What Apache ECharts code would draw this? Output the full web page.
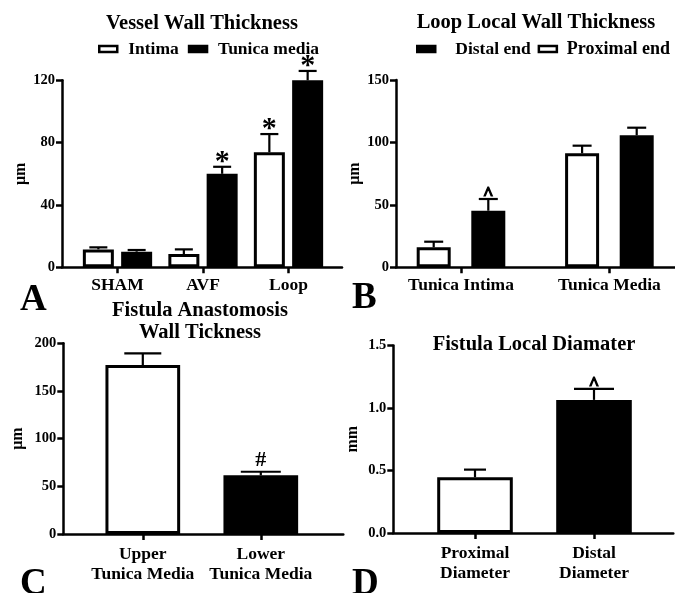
<!DOCTYPE html>
<html><head><meta charset="utf-8">
<script src="https://cdn.jsdelivr.net/npm/echarts@6.0.0/dist/echarts.min.js"></script>
<style>html,body{margin:0;padding:0;background:#fff}#c{width:675px;height:593px}</style>
</head><body><div id="c"></div>
<script>
// ---------- Panel A: Vessel Wall Thickness ----------
const aCategories = ['SHAM', 'AVF', 'Loop'];
const aIntima = [11.5, 8.5, 73.8];
const aIntimaErr = [12.8, 11.5, 85.5];
const aMedia = [10, 60, 120];
const aMediaErr = [11.1, 64.5, 126];
const aIntimaMarks = ['', '', '*'];
const aMediaMarks = ['', '*', '*'];
// ---------- Panel B: Loop Local Wall Thickness ----------
const bCategories = ['Tunica Intima', 'Tunica Media'];
const bProximal = [16, 91.3];
const bProximalErr = [20.5, 97.4];
const bDistal = [45.3, 105.7];
const bDistalErr = [54.7, 111.8];
const bProximalMarks = ['', ''];
const bDistalMarks = ['^', ''];
// ---------- Panel C: Fistula Anastomosis Wall Tickness ----------
const cCategories = ['Upper\nTunica Media', 'Lower\nTunica Media'];
const cValues = [177.2, 61.5];
const cErr = [189.5, 65.3];
const cMarks = ['', '#'];
// ---------- Panel D: Fistula Local Diamater ----------
const dCategories = ['Proximal\nDiameter', 'Distal\nDiameter'];
const dValues = [0.446, 1.065];
const dErr = [0.507, 1.153];
const dMarks = ['', '^'];

const FONT = "'Liberation Serif', 'Times New Roman', serif";
const BLACK = '#000';
const txt = (size) => ({ fontFamily: FONT, fontWeight: 'bold', fontSize: size, color: BLACK });

// panel layouts: frame = visible axes; bars = category band grid
const panels = [
  { frame: { left: 62, top: 80.3, width: 280, height: 187 }, bars: { left: 74.75, width: 256.5 }, min: 0, max: 120, interval: 40, name: 'μm', nameGap: 32, cats: aCategories, fmt: v => String(v) },
  { frame: { left: 396, top: 80, width: 279, height: 187.3 }, bars: { left: 386.8, width: 296.8 }, min: 0, max: 150, interval: 50, name: 'μm', nameGap: 32, cats: bCategories, fmt: v => String(v) },
  { frame: { left: 63.3, top: 343.3, width: 280, height: 190.7 }, bars: { left: 83.8, width: 236 }, min: 0, max: 200, interval: 50, name: 'μm', nameGap: 37, cats: cCategories, fmt: v => String(v) },
  { frame: { left: 393.3, top: 345.5, width: 280, height: 187.5 }, bars: { left: 415.5, width: 238 }, min: 0, max: 1.5, interval: 0.5, name: 'mm', nameGap: 32, cats: dCategories, fmt: v => v.toFixed(1) }
];

const grids = [], xAxes = [], yAxes = [];
panels.forEach((p, k) => {
  grids.push(Object.assign({ outerBoundsMode: 'none', containLabel: false }, p.frame));
  grids.push({ outerBoundsMode: 'none', containLabel: false, left: p.bars.left, width: p.bars.width, top: p.frame.top, height: p.frame.height });
  xAxes.push({
    gridIndex: 2 * k, type: 'value', min: 0, max: 1,
    axisLine: { show: true, lineStyle: { color: BLACK, width: 2.5 } },
    axisTick: { show: false }, axisLabel: { show: false }, splitLine: { show: false }
  });
  xAxes.push({
    gridIndex: 2 * k + 1, type: 'category', data: p.cats,
    axisLine: { show: false },
    axisTick: { show: true, alignWithLabel: true, length: 6, lineStyle: { color: BLACK, width: 2.5 } },
    axisLabel: Object.assign(txt(17.5), { margin: k < 2 ? 8 : 10, lineHeight: 20, interval: 0 }),
    splitLine: { show: false }
  });
  yAxes.push({
    gridIndex: 2 * k, type: 'value', min: p.min, max: p.max, interval: p.interval,
    name: p.name, nameLocation: 'middle', nameGap: p.nameGap, nameRotate: 90,
    nameTextStyle: txt(16),
    axisLine: { show: true, lineStyle: { color: BLACK, width: 2.5 } },
    axisTick: { show: true, length: 6, lineStyle: { color: BLACK, width: 2.5 } },
    axisLabel: Object.assign(txt(14.5), { margin: 7, formatter: p.fmt }),
    splitLine: { show: false }
  });
  yAxes.push({ gridIndex: 2 * k + 1, type: 'value', min: p.min, max: p.max, show: false });
});

const barStyle = (fill) => ({ color: fill, borderColor: BLACK, borderWidth: 3 });

function errorBars(axisIdx, means, errs, marks, offset, caps, markCfg) {
  return {
    type: 'custom', xAxisIndex: axisIdx, yAxisIndex: axisIdx, z: 10, silent: true,
    data: means.map((m, i) => [i, m, errs[i]]),
    renderItem: function (params, api) {
      const i = api.value(0);
      const base = api.coord([i, api.value(1)]);
      const top = api.coord([i, api.value(2)]);
      const x = base[0] + offset;
      const cw = Array.isArray(caps) ? caps[i] : caps;
      const children = [
        { type: 'line', shape: { x1: x, y1: base[1], x2: x, y2: top[1] }, style: { stroke: BLACK, lineWidth: 2.2 } },
        { type: 'line', shape: { x1: x - cw / 2, y1: top[1], x2: x + cw / 2, y2: top[1] }, style: { stroke: BLACK, lineWidth: 2.2 } }
      ];
      if (marks[i]) {
        children.push({
          type: 'text', x: x, y: top[1] - markCfg.dy,
          style: { text: marks[i], fontFamily: FONT, fontWeight: 'bold', fontSize: markCfg.size, fill: BLACK,
                   stroke: BLACK, lineWidth: markCfg.stroke || 0, align: 'center', verticalAlign: 'middle' }
        });
      }
      return { type: 'group', children: children };
    }
  };
}

const series = [
  // Panel A
  { type: 'bar', name: 'Intima', xAxisIndex: 1, yAxisIndex: 1, data: aIntima, barWidth: 31, barGap: '23.5%', itemStyle: barStyle('#fff') },
  { type: 'bar', name: 'Tunica media', xAxisIndex: 1, yAxisIndex: 1, data: aMedia, barWidth: 31, barGap: '23.5%', itemStyle: barStyle(BLACK) },
  errorBars(1, aIntima, aIntimaErr, aIntimaMarks, -19.15, 18, { dy: 5, size: 30 }),
  errorBars(1, aMedia, aMediaErr, aMediaMarks, 19.15, 18, { dy: 5, size: 30 }),
  // Panel B
  { type: 'bar', name: 'Proximal end', xAxisIndex: 3, yAxisIndex: 3, data: bProximal, barWidth: 34, barGap: '60.6%', itemStyle: barStyle('#fff') },
  { type: 'bar', name: 'Distal end', xAxisIndex: 3, yAxisIndex: 3, data: bDistal, barWidth: 34, barGap: '60.6%', itemStyle: barStyle(BLACK) },
  errorBars(3, bProximal, bProximalErr, bProximalMarks, -27.3, 19, { dy: 4, size: 18, stroke: 1.2 }),
  errorBars(3, bDistal, bDistalErr, bDistalMarks, 27.3, 19, { dy: 4, size: 18, stroke: 1.2 }),
  // Panel C
  { type: 'bar', name: 'C', xAxisIndex: 5, yAxisIndex: 5, barWidth: 74.7,
    data: cValues.map((v, i) => ({ value: v, itemStyle: barStyle(i === 0 ? '#fff' : BLACK) })), itemStyle: barStyle('#fff') },
  errorBars(5, cValues, cErr, cMarks, 0, [37, 40], { dy: 11, size: 22 }),
  // Panel D
  { type: 'bar', name: 'D', xAxisIndex: 7, yAxisIndex: 7, barWidth: 75.6,
    data: dValues.map((v, i) => ({ value: v, itemStyle: barStyle(i === 0 ? '#fff' : BLACK) })), itemStyle: barStyle('#fff') },
  errorBars(7, dValues, dErr, dMarks, 0, [22, 40], { dy: 4, size: 18, stroke: 1.2 })
];

const titleStyle = txt(20.5);
const letterStyle = txt(37);
const option = {
  animation: false,
  backgroundColor: '#fff',
  title: [
    { text: 'Vessel Wall Thickness', left: 202, top: 13, textAlign: 'center', padding: 0, textStyle: titleStyle },
    { text: 'Loop Local Wall Thickness', left: 536, top: 12, textAlign: 'center', padding: 0, textStyle: titleStyle },
    { text: 'Fistula Anastomosis\nWall Tickness', left: 200, top: 300, textAlign: 'center', padding: 0, textStyle: Object.assign(txt(20.5), { lineHeight: 21.5 }) },
    { text: 'Fistula Local Diamater', left: 534, top: 334, textAlign: 'center', padding: 0, textStyle: titleStyle },
    { text: 'A', left: 20, top: 282, padding: 0, textStyle: letterStyle },
    { text: 'B', left: 352, top: 280, padding: 0, textStyle: letterStyle },
    { text: 'C', left: 20, top: 566, padding: 0, textStyle: letterStyle },
    { text: 'D', left: 352, top: 566, padding: 0, textStyle: letterStyle }
  ],
  legend: [
    { left: 98, top: 40, padding: 0, itemWidth: 18, itemHeight: 6, itemGap: 9, icon: 'rect', selectedMode: false,
      itemStyle: { borderColor: BLACK, borderWidth: 2.5 },
      textStyle: Object.assign(txt(17.5), { padding: [0, 0, 0, 6] }),
      data: ['Intima', 'Tunica media'] },
    { left: 416, top: 40, padding: 0, itemWidth: 18, itemHeight: 6, itemGap: 7, icon: 'rect', selectedMode: false,
      itemStyle: { borderColor: BLACK, borderWidth: 2.5 },
      textStyle: Object.assign(txt(17.5), { padding: [0, 0, 0, 5] }),
      data: [{ name: 'Distal end', textStyle: Object.assign(txt(17.5), { padding: [0, 0, 0, 15] }) },
             { name: 'Proximal end', textStyle: Object.assign(txt(18), { padding: [0, 0, 0, 5] }) }] }
  ],
  grid: grids,
  xAxis: xAxes,
  yAxis: yAxes,
  series: series
};

const chart = echarts.init(document.getElementById('c'), null, { renderer: 'canvas' });
chart.setOption(option);
</script>
</body></html>
